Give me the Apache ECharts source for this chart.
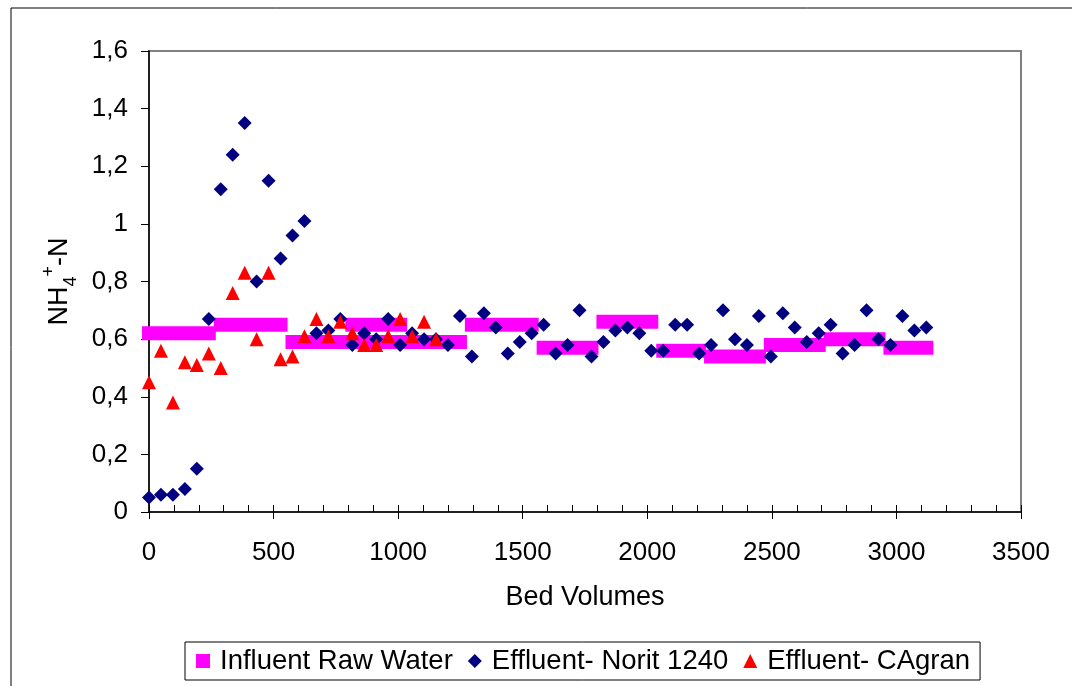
<!DOCTYPE html>
<html>
<head>
<meta charset="utf-8">
<script src="https://cdn.jsdelivr.net/npm/echarts@6/dist/echarts.min.js"></script>
<style>
html,body{margin:0;padding:0;background:#fff;}
#chart{width:1072px;height:686px;}
</style>
</head>
<body>
<div id="chart"></div>
<script>
// ---- data ----
const influentStart = [0, 288, 576, 816, 1296, 1584, 1824, 2064, 2256, 2496, 2736, 2976];
const influentEnd   = [240, 528, 1248, 1008, 1536, 1776, 2016, 2208, 2448, 2688, 2928, 3120];
const influentNH4   = [0.62, 0.65, 0.59, 0.65, 0.65, 0.57, 0.66, 0.56, 0.54, 0.58, 0.60, 0.57];

const noritBV = [0,48,96,144,192,240,288,336,384,432,480,528,576,624,672,720,768,816,864,912,960,1008,1056,1104,1152,1200,1248,1296,1344,1392,1440,1488,1536,1584,1632,1680,1728,1776,1824,1872,1920,1968,2016,2064,2112,2160,2208,2256,2304,2352,2400,2448,2496,2544,2592,2640,2688,2736,2784,2832,2880,2928,2976,3024,3072,3120];
const noritNH4 = [0.05,0.06,0.06,0.08,0.15,0.67,1.12,1.24,1.35,0.80,
                  1.15,0.88,0.96,1.01,0.62,0.63,0.67,0.58,0.62,0.60,
                  0.67,0.58,0.62,0.60,0.60,0.58,0.68,0.54,0.69,0.64,
                  0.55,0.59,0.62,0.65,0.55,0.58,0.70,0.54,0.59,0.63,
                  0.64,0.62,0.56,0.56,0.65,0.65,0.55,0.58,0.70,0.60,
                  0.58,0.68,0.54,0.69,0.64,0.59,0.62,0.65,0.55,0.58,
                  0.70,0.60,0.58,0.68,0.63,0.64];

const cagranBV = [0,48,96,144,192,240,288,336,384,432,480,528,576,624,672,720,768,816,864,912,960,1008,1056,1104,1152];
const cagranNH4 = [0.45,0.56,0.38,0.52,0.51,0.55,0.50,0.76,0.83,0.60,
                   0.83,0.53,0.54,0.61,0.67,0.61,0.66,0.62,0.58,0.58,
                   0.61,0.67,0.61,0.66,0.60];

const xTicks = [0, 500, 1000, 1500, 2000, 2500, 3000, 3500];
const yTicks = [0, 0.2, 0.4, 0.6, 0.8, 1.0, 1.2, 1.4, 1.6];

const seriesNames = ['Influent Raw Water', 'Effluent- Norit 1240', 'Effluent- CAgran'];
const xTitle = 'Bed Volumes';

// ---- chart ----
const FONT = '"Liberation Sans", Arial, sans-serif';
const chart = echarts.init(document.getElementById('chart'), null, {renderer: 'canvas'});

const series = [];
influentStart.forEach((s, i) => {
  series.push({
    name: seriesNames[0],
    type: 'line',
    data: [[s, influentNH4[i]], [influentEnd[i], influentNH4[i]]],
    showSymbol: false,
    symbol: 'none',
    lineStyle: {color: '#FF00FF', width: 14, cap: 'square', opacity: 1},
    itemStyle: {color: '#FF00FF'},
    z: 2,
    silent: true
  });
});
series.push({
  name: seriesNames[1],
  type: 'scatter',
  data: noritBV.map((x, i) => [x, noritNH4[i]]),
  symbol: 'diamond',
  symbolSize: 14,
  itemStyle: {color: '#000080', opacity: 1},
  z: 3
});
series.push({
  name: seriesNames[2],
  type: 'scatter',
  data: cagranBV.map((x, i) => [x, cagranNH4[i]]),
  symbol: 'triangle',
  symbolSize: 14,
  itemStyle: {color: '#FF0000', opacity: 1},
  z: 4
});

const axisCommon = {
  min: xTicks[0],
  max: xTicks[xTicks.length - 1],
  interval: xTicks[1] - xTicks[0]
};

chart.setOption({
  animation: false,
  backgroundColor: '#fff',
  textStyle: {fontFamily: FONT},
  grid: {left: 149, top: 51, width: 872, height: 461, show: true, borderColor: '#808080', borderWidth: 2, backgroundColor: 'transparent'},
  graphic: [{
    type: 'rect',
    shape: {x: 11, y: 8, width: 1200, height: 900},
    style: {fill: null, stroke: '#000', lineWidth: 1},
    silent: true
  }],
  legend: {
    left: 185,
    top: 642,
    padding: [5, 10, 5, 11],
    borderColor: '#000',
    borderWidth: 1,
    itemWidth: 14,
    itemHeight: 14,
    itemGap: 15,
    textStyle: {fontFamily: FONT, fontSize: 27.5, color: '#000', padding: [0, 0, 0, 5]},
    data: [
      {name: seriesNames[0], icon: 'rect', itemStyle: {color: '#FF00FF'}},
      {name: seriesNames[1], icon: 'diamond', itemStyle: {color: '#000080'}},
      {name: seriesNames[2], icon: 'triangle', itemStyle: {color: '#FF0000'}}
    ],
    selectedMode: false
  },
  xAxis: [Object.assign({
    type: 'value',
    position: 'bottom',
    name: xTitle,
    nameLocation: 'middle',
    nameGap: 72,
    nameTextStyle: {fontFamily: FONT, fontSize: 27, color: '#000'},
    axisLine: {show: true, lineStyle: {color: '#000', width: 1.5}},
    axisTick: {show: true, inside: true, length: 7, lineStyle: {color: '#000', width: 1}},
    minorTick: {show: true, splitNumber: 5, length: 7, lineStyle: {color: '#000', width: 1}},
    axisLabel: {fontFamily: FONT, fontSize: 26, color: '#000', margin: 28, formatter: v => String(v)},
    splitLine: {show: false}
  }, axisCommon), Object.assign({
    type: 'value',
    position: 'bottom',
    axisLine: {show: false},
    axisTick: {show: true, inside: false, length: 7, lineStyle: {color: '#000', width: 1}},
    axisLabel: {show: false},
    splitLine: {show: false}
  }, axisCommon)],
  yAxis: {
    type: 'value',
    min: yTicks[0],
    max: yTicks[yTicks.length - 1],
    interval: 0.2,
    name: '{a|NH}{b|4}{c|+}{a|-N}',
    nameLocation: 'middle',
    nameRotate: 90,
    nameGap: 69,
    nameTextStyle: {
      fontFamily: FONT, color: '#000',
      rich: {
        a: {fontFamily: FONT, fontSize: 27, lineHeight: 40, color: '#000'},
        b: {fontFamily: FONT, fontSize: 18, lineHeight: 20, verticalAlign: 'bottom', color: '#000'},
        c: {fontFamily: FONT, fontSize: 18, lineHeight: 28, verticalAlign: 'top', color: '#000'}
      }
    },
    axisLine: {show: true, lineStyle: {color: '#000', width: 1.5}},
    axisTick: {show: true, inside: false, length: 8, lineStyle: {color: '#000', width: 1}},
    axisLabel: {
      fontFamily: FONT, fontSize: 26, color: '#000', margin: 21,
      formatter: v => String(Math.round(v * 10) / 10).replace('.', ',')
    },
    splitLine: {show: false}
  },
  series: series
});
</script>
</body>
</html>
